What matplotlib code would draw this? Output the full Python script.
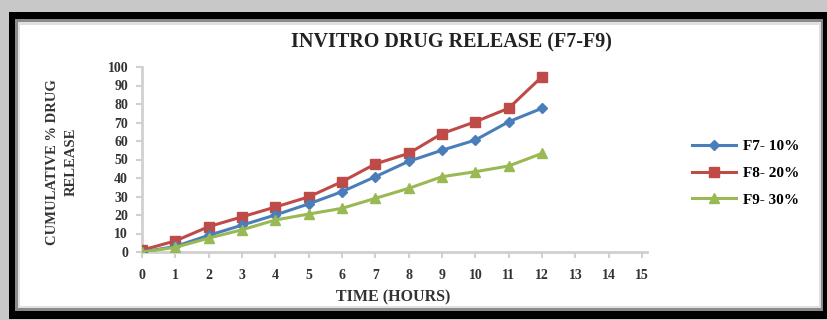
import matplotlib.pyplot as plt
from matplotlib.patches import Rectangle

# время (часы) и кумулятивный выход препарата, %
hours = list(range(13))
f7 = [0, 3, 9, 14.5, 20, 26, 32.6, 40.7, 49, 55, 60.5, 70.4, 77.7]
f8 = [1, 6, 13.7, 19, 24.3, 29.8, 38, 47.6, 53.3, 64, 70.4, 77.7, 94.8]
f9 = [0, 2.5, 7.5, 12, 17.3, 20.5, 23.6, 29, 34.4, 40.7, 43.4, 46.5, 53.3]
labels = ["F7- 10%", "F8- 20%", "F9- 30%"]
x_ticks = list(range(16))
y_ticks = list(range(0, 101, 10))

W, H = 827, 320
plt.rcParams['font.family'] = ['Liberation Serif', 'DejaVu Serif']
plt.rcParams['font.weight'] = 'bold'

fig = plt.figure(figsize=(W / 100, H / 100), dpi=100)


def box(x0, y0, x1, y1, color):
    # прямоугольник в пикселях (отсчёт сверху)
    fig.add_artist(Rectangle((x0 / W, 1 - y1 / H), (x1 - x0) / W, (y1 - y0) / H,
                             transform=fig.transFigure, facecolor=color,
                             edgecolor='none', zorder=-5))


# рамка вокруг графика
box(0, 0, W, H, '#c8c8c8')
box(9, 12, W, 319, '#000000')
box(15, 19, 823, 311, '#8a8a8a')
box(18, 22, 821, 308, '#e0e0e0')
box(20, 25, 819, 306, '#ffffff')

ax = fig.add_axes([142 / W, 1 - 252 / H, 505 / W, 185 / H])
ax.patch.set_alpha(0)

ax.plot(hours, f7, color='#4a7ebb', lw=2.2, marker='D', ms=5, label=labels[0], zorder=4)
ax.plot(hours, f8, color='#be4b48', lw=2.2, marker='s', ms=7.5, label=labels[1], zorder=3)
ax.plot(hours, f9, color='#98b954', lw=2.2, marker='^', ms=7, label=labels[2], zorder=5)

ax.set_xlim(0, 15.15)
ax.set_ylim(0, 100)
ax.set_xticks(x_ticks)
ax.set_yticks(y_ticks)
ax.tick_params(labelsize=10, colors='#d0d0d0', labelcolor='#333333', length=4, width=1.5)
for s in ['top', 'right']:
    ax.spines[s].set_visible(False)
for s in ['left', 'bottom']:
    ax.spines[s].set_color('#d0d0d0')
    ax.spines[s].set_linewidth(2)
ax.tick_params(axis='x', pad=8)
ax.tick_params(axis='y', pad=6)

fig.text(451 / W, 1 - 42 / H, "INVITRO DRUG RELEASE (F7-F9)", ha='center', va='center',
         fontsize=14.5, fontweight='bold', color='#222222')
fig.text(393 / W, 1 - 297 / H, "TIME (HOURS)", ha='center', va='center',
         fontsize=11.5, fontweight='bold', color='#333333')
fig.text(62 / W, 1 - 162 / H, "CUMULATIVE % DRUG\nRELEASE", ha='center', va='center',
         rotation=90, fontsize=10.5, fontweight='bold', color='#333333', linespacing=1.6)

fig.legend(loc='center left', bbox_to_anchor=(686 / W, 1 - 173 / H), frameon=False,
           fontsize=11, handlelength=2.9, labelspacing=0.85, handletextpad=0.4,
           borderaxespad=0)

fig.savefig('out.png', dpi=100)
